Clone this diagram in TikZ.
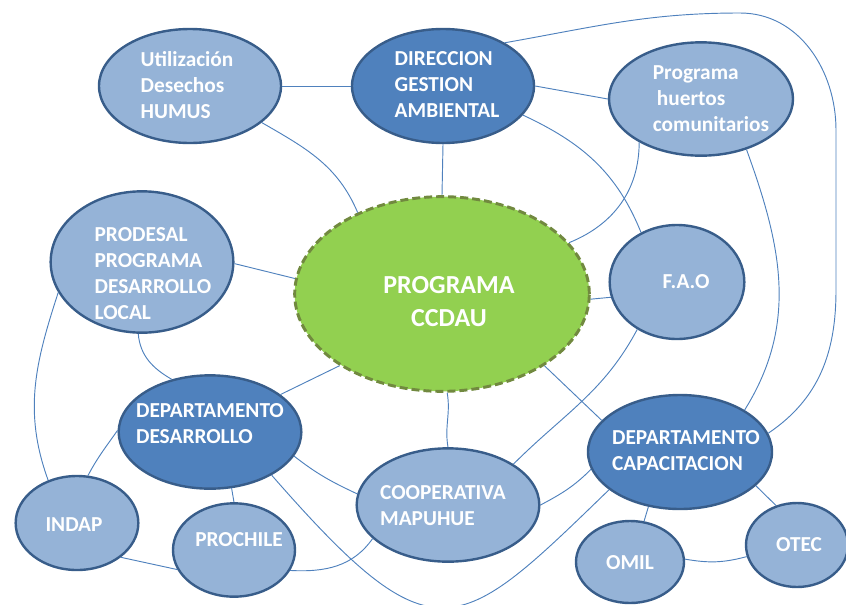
\documentclass[tikz,border=0pt]{standalone}
\usepackage{fontspec}
\setmainfont{Carlito}
\usetikzlibrary{shapes.geometric}

\definecolor{paleblue}{HTML}{95B3D7}
\definecolor{deepblue}{HTML}{4F81BD}
\definecolor{rimblue}{HTML}{385D8A}
\definecolor{leafgreen}{HTML}{92D050}
\definecolor{rimgreen}{HTML}{71893F}

\begin{document}
\begin{tikzpicture}[x=0.75pt, y=0.75pt,
    bubble/.style={ellipse, draw=rimblue, line width=1.8pt, fill=paleblue, inner sep=0pt},
    deep/.style={bubble, fill=deepblue},
    hub/.style={ellipse, draw=rimgreen, line width=2.2pt, dash pattern=on 6pt off 3pt, fill=leafgreen, inner sep=0pt},
    txt/.style={text=white, font=\fontsize{16}{19.5}\selectfont\bfseries, align=left, inner sep=0pt},
    link/.style={draw=deepblue, line width=0.7pt}]

      \useasboundingbox (0,0) rectangle (846,-604);
      \clip (0,0) rectangle (846,-604);

      \node[bubble, minimum width=136.5pt, minimum height=85.5pt] (util) at (190,-86){};
      \node[deep, minimum width=136.5pt, minimum height=85.5pt] (dir) at (443,-86){};
      \node[bubble, minimum width=138pt, minimum height=85pt] (huer) at (701,-99){};
      \node[hub, minimum width=221pt, minimum height=146pt] (ccdau) at (442,-294){};
      \node[bubble, minimum width=137pt, minimum height=106pt] (prod) at (142,-262){};
      \node[bubble, minimum width=101pt, minimum height=85.5pt] (fao) at (677,-282){};
      \node[deep, minimum width=137pt, minimum height=85pt] (ddes) at (210,-432){};
      \node[bubble, minimum width=137pt, minimum height=85pt] (coop) at (448,-505){};
      \node[deep, minimum width=138pt, minimum height=85.5pt] (dcap) at (680,-452){};
      \node[bubble, minimum width=92pt, minimum height=70.5pt] (indap) at (77,-523){};
      \node[bubble, minimum width=91.5pt, minimum height=70pt] (proch) at (234,-550){};
      \node[bubble, minimum width=81pt, minimum height=61.5pt] (omil) at (630,-562){};
      \node[bubble, minimum width=76.5pt, minimum height=63pt] (otec) at (797,-545){};

      \node[txt] (util-t) at ([shift={(-3,1)}]util){Utilización\\Desechos\\HUMUS};
      \node[txt] (dir-t) at ([shift={(4,1)}]dir){DIRECCION\\GESTION\\AMBIENTAL};
      \node[txt] (huer-t) at ([shift={(10,0)}]huer){Programa\\\hspace*{3pt}huertos\\comunitarios};
      \node[txt, align=center, font=\fontsize{19.5}{24.75}\selectfont\bfseries] (ccdau-t) at ([shift={(7,-8)}]ccdau){PROGRAMA\\CCDAU};
      \node[txt] (prod-t) at ([shift={(11,-12)}]prod){PRODESAL\\PROGRAMA\\DESARROLLO\\LOCAL};
      \node[txt] (fao-t) at ([shift={(9,0)}]fao){F.A.O};
      \node[txt] (ddes-t) at ([shift={(0,8)}]ddes){DEPARTAMENTO\\DESARROLLO};
      \node[txt] (coop-t) at ([shift={(-5,-1)}]coop){COOPERATIVA\\MAPUHUE};
      \node[txt] (dcap-t) at ([shift={(6,1)}]dcap){DEPARTAMENTO\\CAPACITACION};
      \node[txt] (indap-t) at ([shift={(-3,-2)}]indap){INDAP};
      \node[txt] (proch-t) at ([shift={(5,10)}]proch){PROCHILE};
      \node[txt] (omil-t) at ([shift={(0,-1)}]omil){OMIL};
      \node[txt] (otec-t) at ([shift={(2,0)}]otec){OTEC};

      \draw[link] (util.0) -- (dir.180);
      \draw[link] (util.-27) to[out=-30,in=113] (ccdau.136);
      \draw[link] (dir.-90) -- (ccdau.90);
      \draw[link] (dir.0) -- (huer.180);
      \draw[link] (dir.-20) to[out=-25,in=112] (fao.126);
      \draw[link] (dir.35) to[out=10,in=180] (740,-13) to[out=0,in=90] (836,-130)
                  -- (836,-290) to[out=-90,in=34] (dcap.12);

      \draw[link] (huer.-145) to[out=-90,in=22] (ccdau.22);
      \draw[link] (huer.-48) to[out=-70,in=58] (dcap.33);

      \draw[link] (ccdau.-2) -- (fao.193);
      \draw[link] (prod.-1) -- (ccdau.174);
      \draw[link] (prod.-93) to[out=-85,in=150] (ddes.126);
      \draw[link] (prod.-160) to[out=-108,in=110] (indap.124);

      \draw[link] (ccdau.-145) -- (ddes.28);
      \draw[link] (ccdau.-87) to[out=-80,in=100] (coop.90);
      \draw[link] (ccdau.-35) -- (dcap.158);
      \draw[link] (fao.-130) to[out=-118,in=45] (coop.32);

      \draw[link] (ddes.179) to[out=-125,in=62] (indap.77);
      \draw[link] (ddes.-69) -- (proch.90);
      \draw[link] (ddes.-16) to[out=-38,in=155] (coop.173);
      \draw[link] (ddes.-35) .. controls (435,-662) and (457,-637) .. (dcap.208);

      \draw[link] (indap.-38) -- (proch.199);
      \draw[link] (proch.-20) to[out=-3,in=-125] (coop.-156);
      \draw[link] (coop.0) to[out=28,in=-135] (dcap.191);

      \draw[link] (dcap.-120) -- (omil.71);
      \draw[link] (omil.3) to[out=-10,in=-165] (otec.-167);
      \draw[link] (dcap.-24) -- (otec.118);

    \end{tikzpicture}
\end{document}
